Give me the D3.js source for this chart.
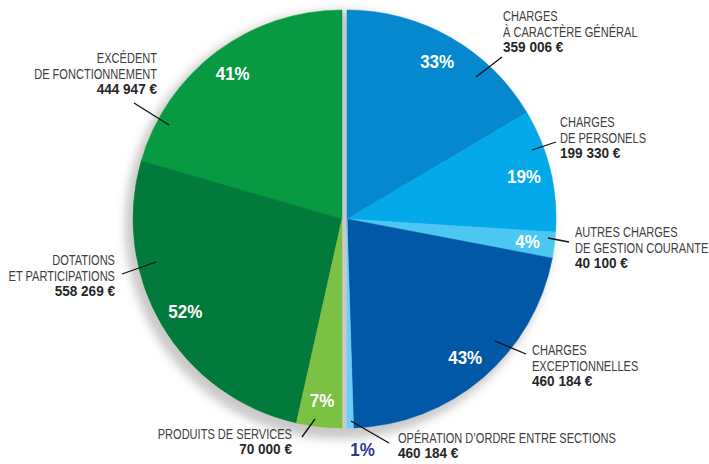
<!DOCTYPE html>
<html><head><meta charset="utf-8">
<script src="https://cdn.jsdelivr.net/npm/d3@7"></script>
<style>body{margin:0;background:#fff;overflow:hidden}</style>
</head><body><svg id="c" width="709" height="464"></svg>
<script>
// ---------- DATA ----------
const expenseLabels = [
  ["CHARGES", "À CARACTÈRE GÉNÉRAL"],
  ["CHARGES", "DE PERSONELS"],
  ["AUTRES CHARGES", "DE GESTION COURANTE"],
  ["CHARGES", "EXCEPTIONNELLES"],
  ["OPÉRATION D’ORDRE ENTRE SECTIONS"]
];
const expensePercents = [33, 19, 4, 43, 1];
const expenseAmounts = ["359 006 €", "199 330 €", "40 100 €", "460 184 €", "460 184 €"];
const expenseColors = ["#0588cd", "#03a9e9", "#4cc7f2", "#0158a6", "#6ccff5"];

const revenueLabels = [
  ["EXCÉDENT", "DE FONCTIONNEMENT"],
  ["DOTATIONS", "ET PARTICIPATIONS"],
  ["PRODUITS DE SERVICES"]
];
const revenuePercents = [41, 52, 7];
const revenueAmounts = ["444 947 €", "558 269 €", "70 000 €"];
const revenueColors = ["#089a42", "#027a3c", "#7bc143"];

// ---------- LAYOUT (annotation placement) ----------
const R = 209, CY = 219, CXL = 342, CXR = 347;
const expenseLayout = [
  {tx: 503, ty: 21, anchor: "start", leader: [476, 77, 502, 57]},
  {tx: 560, ty: 127, anchor: "start", leader: [532, 150, 556, 142]},
  {tx: 575, ty: 237, anchor: "start", leader: [548, 238, 569, 242]},
  {tx: 532, ty: 355, anchor: "start", leader: [495, 341, 526, 354]},
  {tx: 398, ty: 443, anchor: "start", leader: [351, 421, 389, 443]}
];
const revenueLayout = [
  {tx: 157, ty: 63, anchor: "end", leader: [134, 103, 169, 125]},
  {tx: 115, ty: 265, anchor: "end", leader: [122, 274, 156, 262]},
  {tx: 292, ty: 439, anchor: "end", leader: [302, 437, 315, 419]}
];

const svg = d3.select("#c");
const defs = svg.append("defs");
defs.append("filter").attr("id", "blur").attr("x", "-20%").attr("y", "-20%").attr("width", "140%").attr("height", "140%")
  .append("feGaussianBlur").attr("stdDeviation", 5);

// shadow
svg.append("circle").attr("cx", 339).attr("cy", 225).attr("r", 214)
  .attr("fill", "#c9c9c9").attr("filter", "url(#blur)");

const arc = d3.arc().innerRadius(0).outerRadius(R);
const labelArc = d3.arc().innerRadius(182).outerRadius(182);

const pieR = d3.pie().sort(null).startAngle(0).endAngle(Math.PI);
const pieL = d3.pie().sort(null).startAngle(2 * Math.PI).endAngle(Math.PI);

const arcsR = pieR(expensePercents);
const arcsL = pieL(revenuePercents);

const gR = svg.append("g").attr("transform", `translate(${CXR},${CY})`);
const gL = svg.append("g").attr("transform", `translate(${CXL},${CY})`);

gR.selectAll("path").data(arcsR).join("path")
  .attr("d", arc).attr("fill", (d, i) => expenseColors[i])
  .attr("stroke", (d, i) => expenseColors[i]).attr("stroke-width", 0.5);
gL.selectAll("path").data(arcsL).join("path")
  .attr("d", arc).attr("fill", (d, i) => revenueColors[i])
  .attr("stroke", (d, i) => revenueColors[i]).attr("stroke-width", 0.5);

const baseFont = "'Liberation Sans', Arial, sans-serif";
function pctLabels(g, arcs, vals, outsideIdx) {
  g.selectAll("g.pct").data(arcs).join("g")
    .attr("class", "pct")
    .attr("transform", (d, i) => {
      let [x, y] = labelArc.centroid(d);
      if (i === outsideIdx) {
        const a = (d.startAngle + d.endAngle) / 2;
        x = 232 * Math.sin(a) + 12; y = -232 * Math.cos(a) - 2;
      }
      return `translate(${x},${y}) scale(0.92,1)`;
    })
    .append("text")
    .attr("text-anchor", "middle").attr("dy", "0.36em")
    .attr("font-family", baseFont).attr("font-weight", "bold").attr("font-size", 18.5)
    .attr("fill", (d, i) => i === outsideIdx ? "#34358f" : "#fff")
    .text((d, i) => vals[i] + "%");
}
pctLabels(gR, arcsR, expensePercents, 4);
pctLabels(gL, arcsL, revenuePercents, -1);

function annotations(labels, amounts, layout) {
  layout.forEach((L, i) => {
    svg.append("line")
      .attr("x1", L.leader[0]).attr("y1", L.leader[1]).attr("x2", L.leader[2]).attr("y2", L.leader[3])
      .attr("stroke", "#111").attr("stroke-width", 1.3);
    const lines = labels[i];
    let y = L.ty;
    lines.forEach((ln, k) => {
      if (k > 0) y += 15.8;
      svg.append("text")
        .attr("transform", `translate(${L.tx},${y}) scale(0.79,1)`)
        .attr("text-anchor", L.anchor).attr("font-family", baseFont).attr("font-size", 14)
        .attr("fill", "#404040").text(ln);
    });
    y += lines.length > 1 ? 15.5 : 14.5;
    svg.append("text")
      .attr("transform", `translate(${L.tx},${y}) scale(0.97,1)`)
      .attr("text-anchor", L.anchor).attr("font-family", baseFont).attr("font-size", 14)
      .attr("font-weight", "bold").attr("fill", "#262626").text(amounts[i]);
  });
}
annotations(expenseLabels, expenseAmounts, expenseLayout);
annotations(revenueLabels, revenueAmounts, revenueLayout);
</script>
</body></html>
